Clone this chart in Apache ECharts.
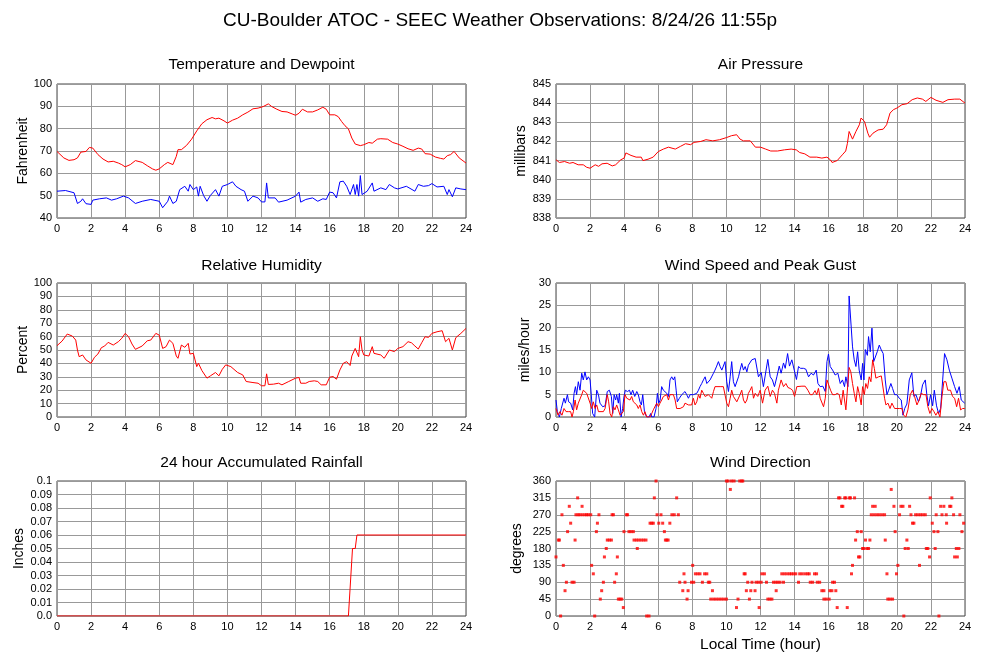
<!DOCTYPE html>
<html>
<head>
<meta charset="utf-8">
<script src="https://cdn.jsdelivr.net/npm/echarts@6/dist/echarts.min.js"></script>
<style>
html,body{margin:0;padding:0;background:#fff;}
#chart{width:1000px;height:660px;}
</style>
</head>
<body>
<div id="chart"></div>
<script>
// ---------- DATA ----------
const mainTitle = "CU-Boulder ATOC - SEEC Weather Observations: 8/24/26 11:55p";
const panelTitles = ["Temperature and Dewpoint","Air Pressure","Relative Humidity","Wind Speed and Peak Gust","24 hour Accumulated Rainfall","Wind Direction"];
const yNames = ["Fahrenheit","millibars","Percent","miles/hour","Inches","degrees"];
const hourTicks = [0,2,4,6,8,10,12,14,16,18,20,22,24];

const temperature = [[0,69.8],[0.4,66.9],[0.7,65.8],[1.0,66.1],[1.2,66.9],[1.4,69.5],[1.7,69.8],[1.9,71.6],[2.1,71.3],[2.4,68.4],[2.7,66.4],[3.0,65.1],[3.3,65.4],[3.6,64.6],[3.8,63.9],[4.0,62.9],[4.3,63.9],[4.6,65.7],[5.0,64.9],[5.3,63.4],[5.6,62],[5.8,61.4],[6.0,62],[6.3,63.9],[6.5,64.9],[6.8,63.9],[7.0,67.6],[7.1,70.6],[7.3,70.6],[7.6,72.5],[7.9,75.3],[8.2,79],[8.5,82.2],[8.8,84],[9.1,85],[9.3,84.4],[9.5,84.7],[9.8,83.5],[10.0,82.5],[10.3,83.8],[10.6,84.7],[10.9,86.2],[11.2,87.4],[11.5,88.9],[11.8,89.2],[12.1,89.9],[12.4,91.1],[12.6,89.9],[12.9,88.7],[13.2,87.7],[13.5,87.5],[13.8,86.6],[14.0,86],[14.2,86.9],[14.4,88.7],[14.7,87.5],[15.0,87.5],[15.3,88.4],[15.6,89.6],[15.8,88.7],[16.0,86.2],[16.3,86.2],[16.5,85.4],[16.7,83.2],[16.9,81.3],[17.1,79.9],[17.3,75.8],[17.5,73.1],[17.8,72.4],[18.0,72.8],[18.3,73.8],[18.5,73.5],[18.8,75.3],[19.0,75.5],[19.4,75.3],[19.7,73.8],[20.0,73.1],[20.3,72.1],[20.6,71],[20.9,70.3],[21.2,71.3],[21.4,70.9],[21.6,68.8],[21.9,68.6],[22.2,67.3],[22.5,66.7],[22.7,66.4],[22.9,67.9],[23.1,68.4],[23.3,69.8],[23.6,66.9],[24.0,64.6]];

const dewpoint = [[0,52],[0.5,52.3],[1.0,51.3],[1.2,46.5],[1.4,47.5],[1.5,48.6],[1.7,46.4],[2.0,46.1],[2.1,48],[2.5,48.6],[2.9,49],[3.2,48],[3.5,48.6],[3.9,49.8],[4.2,49],[4.6,46.5],[5.0,47.5],[5.5,48.3],[6.0,47.5],[6.2,44.6],[6.5,47.5],[6.6,49.8],[6.8,46.5],[7.0,47.5],[7.2,52.7],[7.5,54.2],[7.7,52],[7.8,55],[8.0,52.7],[8.2,53.9],[8.3,49.8],[8.4,54.2],[8.6,50.1],[8.8,47.5],[9.0,50.1],[9.3,52.7],[9.5,49.8],[9.7,54.2],[10.0,55],[10.3,56.2],[10.5,54.2],[10.8,52.7],[11.0,52],[11.2,47.5],[11.5,49.8],[11.8,49],[12.0,47.2],[12.2,47.2],[12.3,55.7],[12.4,49],[12.8,49],[13.0,47.1],[13.5,48],[14.0,49.8],[14.2,51.6],[14.3,47.1],[14.6,48.3],[15.0,49],[15.3,47.5],[15.6,48.6],[15.8,48.3],[16.0,51.6],[16.2,51.3],[16.4,49],[16.6,56.2],[16.8,56.5],[17.0,54.2],[17.2,50.5],[17.4,55],[17.5,50.5],[17.6,55],[17.7,49.8],[17.8,59],[17.9,50.5],[18.2,52],[18.5,55.7],[18.6,52],[19.0,53.5],[19.3,52.7],[19.5,55],[19.8,53.5],[20.0,53],[20.5,54.2],[21.0,52],[21.2,55],[21.5,54.2],[21.8,54.5],[22.0,55.4],[22.3,53.9],[22.7,54.2],[22.9,50.5],[23.0,52.7],[23.2,49.5],[23.4,53.5],[23.7,53],[24.0,52.7]];

const pressure = [[0,841.04],[0.2,840.9],[0.5,840.95],[0.8,840.86],[1.0,840.9],[1.3,840.78],[1.4,840.7],[1.6,840.78],[1.8,840.65],[2.0,840.6],[2.3,840.78],[2.5,840.7],[2.7,840.83],[3.0,840.86],[3.3,840.72],[3.5,840.78],[3.8,841.04],[4.0,841.13],[4.1,841.4],[4.4,841.27],[4.7,841.18],[5.0,841.18],[5.1,841],[5.4,841.07],[5.7,841.18],[6.0,841.47],[6.3,841.6],[6.6,841.7],[7.0,841.6],[7.3,841.74],[7.6,841.88],[7.9,841.83],[8.1,841.95],[8.5,842],[8.8,842.09],[9.2,842.03],[9.6,842.09],[10.0,842.2],[10.3,842.3],[10.6,842.35],[10.8,842.12],[11.0,842.03],[11.4,842.03],[11.7,841.7],[12.0,841.7],[12.3,841.6],[12.6,841.5],[13.0,841.5],[13.4,841.56],[13.8,841.6],[14.1,841.56],[14.3,841.42],[14.6,841.35],[14.9,841.18],[15.3,841.18],[15.6,841.13],[15.9,841.18],[16.1,841.04],[16.2,840.9],[16.5,841],[16.8,841.3],[17.0,841.5],[17.1,841.9],[17.2,842.52],[17.4,842.12],[17.6,842.52],[17.8,842.87],[17.9,843.22],[18.1,843.05],[18.3,842.43],[18.4,842.22],[18.6,842.43],[18.9,842.6],[19.2,842.64],[19.4,842.87],[19.6,843.48],[19.8,843.66],[20.0,843.74],[20.3,843.92],[20.6,843.97],[20.9,844.18],[21.2,844.27],[21.5,844.21],[21.7,844.09],[22.0,844.3],[22.3,844.15],[22.7,844.04],[23.0,844.18],[23.4,844.21],[23.7,844.21],[24.0,844]];

const humidity = [[0,53.2],[0.3,56.7],[0.6,61.9],[0.9,60.4],[1.1,57.4],[1.2,50],[1.3,45],[1.5,46.3],[1.7,42.6],[2.0,40.1],[2.2,44.6],[2.4,47],[2.6,51.7],[2.8,53],[3.0,55.7],[3.3,53.7],[3.6,56.2],[3.8,58.7],[4.0,62.4],[4.2,59.9],[4.4,54.5],[4.6,50.5],[5.0,53],[5.3,56.9],[5.5,57.4],[5.8,62.4],[6.0,61.1],[6.2,51.2],[6.4,52.5],[6.6,57.4],[6.8,55],[7.0,45.5],[7.1,43.8],[7.3,53.7],[7.5,52],[7.7,55],[7.8,47],[8.0,47.5],[8.1,42.6],[8.2,37.6],[8.3,40.1],[8.5,34.7],[8.8,29],[9.0,30.7],[9.3,33.2],[9.5,30.7],[9.7,35.6],[9.9,38.9],[10.0,40.1],[10.2,37.6],[10.3,38.9],[10.6,33.2],[10.9,31.4],[11.1,26.5],[11.5,25.7],[11.8,25.2],[12.0,23.3],[12.2,23.3],[12.3,32.2],[12.4,24.3],[12.7,24.5],[13.0,25.2],[13.2,24],[13.6,26.5],[14.0,29],[14.2,29.5],[14.3,25.2],[14.6,25.2],[14.8,26.5],[15.1,27],[15.3,26.5],[15.5,24],[15.8,24],[16.0,29.7],[16.2,30.2],[16.4,28.2],[16.6,35.1],[16.8,40.1],[17.0,41.3],[17.2,38.4],[17.3,45.5],[17.5,51.2],[17.6,52.5],[17.7,45],[17.8,59.9],[17.9,50],[18.0,46.3],[18.3,45.5],[18.5,52.5],[18.6,47.5],[19.0,46.3],[19.2,43.8],[19.5,50],[19.8,48.8],[20.0,51.2],[20.3,52.5],[20.6,56.2],[20.8,55.4],[21.0,53],[21.2,50.7],[21.4,55.4],[21.6,59.9],[21.8,59.4],[22.0,62.4],[22.3,63.6],[22.6,64.4],[22.8,56.2],[23.0,58.7],[23.2,50],[23.3,49.3],[23.4,59.2],[23.7,62.4],[24.0,66.1]];

const windGust = [[0,3.8],[0.08,1.2],[0.2,0],[0.31,1.9],[0.39,1.9],[0.47,4.2],[0.55,3.1],[0.67,5],[0.74,3.4],[0.86,3.1],[0.98,1.6],[1.06,5.3],[1.14,6.8],[1.21,5],[1.31,7.9],[1.41,6],[1.51,9.8],[1.6,8.3],[1.7,10.1],[1.8,8.3],[1.9,9],[2.0,8.3],[2.07,5],[2.15,0.8],[2.27,0],[2.39,6],[2.49,5],[2.58,3.1],[2.74,2.3],[2.88,2.5],[3.01,5.7],[3.13,6],[3.25,4.6],[3.33,0.8],[3.41,5],[3.5,3.8],[3.56,5],[3.66,3.1],[3.72,5.3],[3.82,0],[3.91,1.9],[3.99,4.6],[4.07,6],[4.19,5.7],[4.31,6],[4.4,5],[4.5,6],[4.62,4.6],[4.74,5.7],[4.83,5],[4.93,3.4],[5.01,2.7],[5.09,5],[5.19,1.2],[5.32,0],[5.46,0],[5.56,0.8],[5.62,0],[5.75,0],[5.87,1.9],[5.95,5.3],[6.03,3.1],[6.11,3.8],[6.2,6.8],[6.3,6],[6.4,6],[6.5,5.3],[6.6,4.6],[6.69,8.3],[6.79,9],[6.89,8.3],[6.97,9],[7.05,6],[7.12,3.4],[7.24,4.2],[7.38,5],[7.48,5.3],[7.57,5.7],[7.67,5],[7.77,4.2],[7.87,5],[7.96,5],[8.06,5],[8.16,5],[8.26,5.3],[8.36,6],[8.45,6.8],[8.55,7.5],[8.65,8.3],[8.75,9],[8.85,7.5],[8.94,7.2],[9.04,8.3],[9.14,8.3],[9.24,9.8],[9.33,10.5],[9.43,11.4],[9.53,12.4],[9.63,11.3],[9.73,10.5],[9.82,10.5],[9.92,12.4],[10.02,7.9],[10.12,5.7],[10.22,9],[10.31,12.4],[10.41,7.9],[10.51,6.8],[10.61,6.8],[10.71,9],[10.8,10.5],[10.9,12],[11.0,10.5],[11.1,11.3],[11.2,10.1],[11.29,11.6],[11.39,12],[11.49,12.8],[11.59,12.4],[11.69,13.1],[11.88,9],[12.04,10],[12.17,6.8],[12.43,12.9],[12.57,9],[12.7,8.3],[12.82,6.8],[12.96,9],[13.1,11.4],[13.21,9.8],[13.35,12.1],[13.45,10.9],[13.59,14.2],[13.7,11.4],[13.84,12.8],[13.98,10.5],[14.11,8.4],[14.23,11.3],[14.35,10.9],[14.52,10.9],[14.66,10.7],[14.82,9],[14.97,9.8],[15.11,9.4],[15.27,10.5],[15.37,7.5],[15.5,6.8],[15.66,6.9],[15.8,5.7],[15.9,12.4],[15.99,14.1],[16.09,11.3],[16.23,10.5],[16.38,9.4],[16.54,9.8],[16.68,7.5],[16.81,8.3],[16.93,6.8],[17.01,9],[17.13,6.8],[17.2,27.1],[17.3,27.1],[17.4,15.7],[17.5,12.8],[17.6,11.3],[17.7,14.6],[17.79,10.5],[17.91,8.3],[17.99,12],[18.07,8.3],[18.15,15.1],[18.27,13.8],[18.34,18],[18.44,14.6],[18.54,19.9],[18.64,12.4],[18.73,12.8],[18.85,14.6],[18.97,16.1],[19.09,15],[19.2,14.2],[19.32,8.3],[19.42,5],[19.52,6],[19.65,7.5],[19.75,6.4],[19.87,5],[20.0,5],[20.14,4.2],[20.26,3.8],[20.36,0.4],[20.46,1.9],[20.59,2.9],[20.73,8.3],[20.88,9.9],[21.0,4.6],[21.12,5],[21.27,3.4],[21.39,4.7],[21.51,7.2],[21.67,8.3],[21.76,5],[21.86,2.5],[21.98,5],[22.1,2.5],[22.2,6],[22.33,2.5],[22.45,0.8],[22.57,1.9],[22.69,8.3],[22.8,14.2],[22.94,12.8],[23.08,10.5],[23.23,8.7],[23.39,6.8],[23.53,5.3],[23.66,6.8],[23.78,3.8],[23.86,4.2],[23.98,3.1]];

const windSpeed = [[0,1.9],[0.12,0.4],[0.23,1.2],[0.35,0.4],[0.47,1.9],[0.59,1.2],[0.72,1.2],[0.86,1.2],[0.94,0],[1.02,1.2],[1.12,3.8],[1.21,1.6],[1.31,3.1],[1.41,3.1],[1.51,5],[1.6,6],[1.7,6],[1.8,5.3],[1.9,5],[2.0,3.1],[2.09,1.9],[2.19,3.4],[2.29,1.9],[2.39,2.7],[2.49,1.2],[2.58,1.2],[2.78,1.2],[2.88,1.9],[3.01,5],[3.09,3.4],[3.17,0.8],[3.27,0],[3.37,2.3],[3.46,1.6],[3.56,2.7],[3.66,1.6],[3.76,0.4],[3.86,0],[3.95,1.2],[4.05,5],[4.15,4.2],[4.25,4.2],[4.34,3.8],[4.44,4.6],[4.54,3.4],[4.64,3.4],[4.74,2.7],[4.83,1.9],[4.93,2.7],[5.03,1.2],[5.13,0.4],[5.22,1.2],[5.32,0],[5.52,0],[5.62,0.8],[5.71,1.6],[5.81,1.2],[5.91,3.1],[6.01,2.3],[6.1,3.1],[6.2,3.8],[6.3,4.6],[6.4,5],[6.5,5],[6.6,3.8],[6.69,5],[6.79,5],[6.89,5],[6.99,3.8],[7.08,1.9],[7.18,1.9],[7.28,1.9],[7.38,1.9],[7.48,2.3],[7.57,3.1],[7.67,3.1],[7.77,2.7],[7.87,3.1],[7.96,2.7],[8.06,4.2],[8.16,2.7],[8.26,3.4],[8.36,5],[8.45,4.2],[8.55,6],[8.65,5.3],[8.75,4.6],[8.85,5],[8.94,5],[9.04,4.6],[9.14,4.2],[9.24,5.7],[9.33,6.8],[9.43,6.8],[9.63,6.8],[9.82,6.8],[9.92,6.4],[10.02,3.1],[10.12,2.3],[10.22,4.2],[10.31,6],[10.41,4.6],[10.51,4.2],[10.61,3.4],[10.71,3.8],[10.8,5],[10.9,6],[11.0,3.8],[11.1,3.1],[11.2,3.8],[11.29,5.3],[11.39,6],[11.49,6.8],[11.59,4.2],[11.69,5.3],[11.84,4.6],[11.98,6],[12.12,3.1],[12.27,6],[12.43,6.9],[12.57,4.6],[12.7,6],[12.82,5.3],[12.96,3.1],[13.05,6],[13.21,8.3],[13.35,6.8],[13.49,7.5],[13.61,6.6],[13.74,6.4],[13.88,6],[14.0,4.6],[14.13,6.8],[14.23,6.9],[14.43,6.9],[14.62,6.9],[14.78,6],[14.92,5],[15.05,5],[15.2,5.9],[15.3,5],[15.4,6.4],[15.5,4.2],[15.6,3.8],[15.7,2.3],[15.8,4.2],[15.9,8.3],[15.99,8.3],[16.11,6],[16.23,5],[16.38,5],[16.5,5.3],[16.62,5],[16.74,2.7],[16.85,6],[16.93,3.8],[17.01,1.6],[17.11,1.2],[17.2,11.1],[17.3,10.1],[17.4,7.5],[17.5,5.3],[17.6,3.4],[17.7,6.8],[17.79,5.3],[17.91,2.7],[17.99,6.8],[18.09,5],[18.18,7.5],[18.28,6.4],[18.38,9],[18.48,7.9],[18.58,12.8],[18.68,10.9],[18.77,8.7],[18.93,9],[19.09,9.2],[19.2,9],[19.28,4.2],[19.36,2.7],[19.48,3.1],[19.6,1.9],[19.71,3.1],[19.87,1.9],[20.14,1.9],[20.3,1.9],[20.4,0.4],[20.53,0],[20.65,1.6],[20.79,5],[20.92,6],[21.04,4.6],[21.18,2.7],[21.31,3.8],[21.43,5.3],[21.57,5],[21.71,5],[21.82,2.3],[21.94,0.8],[22.06,1.9],[22.18,1.2],[22.29,0.4],[22.41,1.2],[22.53,0],[22.65,4.6],[22.76,7.9],[22.88,7.9],[22.99,6],[23.15,6],[23.27,4.6],[23.39,4.2],[23.51,2.3],[23.62,4.2],[23.74,1.6],[23.86,1.9],[23.98,1.9]];

const rainfall = [[0,0],[17.1,0],[17.34,0.05],[17.5,0.05],[17.6,0.06],[24,0.06]];

const windDirection = [[0.0,157.5],[0.14,202.5],[0.2,202.5],[0.27,0],[0.35,270],[0.43,135],[0.53,67.5],[0.61,90],[0.68,225],[0.78,292.5],[0.86,247.5],[0.94,90],[1.06,90],[1.12,202.5],[1.17,270],[1.27,315],[1.3,270],[1.4,270],[1.53,292.5],[1.55,270],[1.7,270],[1.8,270],[1.9,270],[2.04,270],[2.09,135],[2.19,112.5],[2.27,0],[2.37,225],[2.43,247.5],[2.52,270],[2.6,45],[2.68,67.5],[2.78,90],[2.84,157.5],[2.95,180],[3.01,202.5],[3.13,202.5],[3.25,202.5],[3.29,270],[3.37,270],[3.44,90],[3.54,112.5],[3.6,157.5],[3.66,45],[3.76,45],[3.86,45],[3.95,22.5],[3.99,225],[4.13,270],[4.2,270],[4.28,225],[4.4,225],[4.54,225],[4.58,202.5],[4.72,202.5],[4.77,180],[4.86,202.5],[5.0,202.5],[5.14,202.5],[5.28,202.5],[5.32,0],[5.46,0],[5.52,247.5],[5.62,247.5],[5.71,247.5],[5.77,315],[5.87,360],[5.93,270],[6.03,247.5],[6.16,270],[6.26,247.5],[6.36,225],[6.42,202.5],[6.5,202.5],[6.58,202.5],[6.68,247.5],[6.8,270],[6.94,270],[7.08,315],[7.18,270],[7.26,90],[7.44,67.5],[7.51,112.5],[7.57,90],[7.69,45],[7.75,67.5],[7.95,90],[8.02,135],[8.08,90],[8.18,112.5],[8.32,112.5],[8.45,112.5],[8.59,90],[8.72,112.5],[8.85,112.5],[8.94,90],[9.02,90],[9.08,45],[9.18,67.5],[9.25,45],[9.4,45],[9.55,45],[9.7,45],[9.85,45],[10.0,360],[10.0,45],[10.1,360],[10.23,337.5],[10.3,360],[10.45,360],[10.59,22.5],[10.68,45],[10.78,360],[10.9,360],[10.96,360],[11.04,112.5],[11.1,112.5],[11.17,67.5],[11.25,90],[11.35,45],[11.43,67.5],[11.5,90],[11.68,67.5],[11.74,90],[11.88,90],[11.92,22.5],[12.04,90],[12.08,112.5],[12.23,112.5],[12.35,90],[12.43,45],[12.55,45],[12.67,45],[12.76,90],[12.9,90],[12.92,67.5],[13.02,90],[13.15,90],[13.25,112.5],[13.35,90],[13.4,112.5],[13.55,112.5],[13.7,112.5],[13.82,112.5],[13.95,112.5],[14.07,112.5],[14.23,90],[14.3,112.5],[14.45,112.5],[14.62,112.5],[14.76,112.5],[14.86,112.5],[14.92,90],[15.06,90],[15.17,112.5],[15.29,112.5],[15.33,90],[15.47,90],[15.6,67.5],[15.72,45],[15.72,67.5],[15.86,45],[16.03,45],[16.07,67.5],[16.19,67.5],[16.23,90],[16.34,90],[16.42,67.5],[16.5,22.5],[16.58,315],[16.66,315],[16.76,292.5],[16.83,292.5],[16.94,315],[17.01,315],[17.09,22.5],[17.22,315],[17.28,315],[17.34,112.5],[17.4,135],[17.52,315],[17.58,202.5],[17.68,225],[17.75,157.5],[17.83,157.5],[17.91,225],[17.99,180],[18.07,180],[18.16,202.5],[18.25,180],[18.34,180],[18.42,202.5],[18.5,270],[18.58,292.5],[18.66,270],[18.73,292.5],[18.82,270],[18.97,270],[19.13,270],[19.28,270],[19.32,202.5],[19.42,112.5],[19.47,45],[19.6,45],[19.67,337.5],[19.75,45],[19.83,292.5],[19.9,225],[19.98,112.5],[20.06,135],[20.16,270],[20.24,292.5],[20.36,292.5],[20.41,0],[20.49,180],[20.59,202.5],[20.67,180],[20.75,292.5],[20.83,270],[20.92,247.5],[21.0,247.5],[21.1,270],[21.24,270],[21.33,135],[21.39,270],[21.53,270],[21.67,270],[21.73,180],[21.82,180],[21.92,157.5],[21.96,315],[22.08,247.5],[22.18,225],[22.25,180],[22.31,270],[22.41,225],[22.47,0],[22.57,292.5],[22.65,270],[22.76,292.5],[22.9,270],[22.92,247.5],[23.1,292.5],[23.17,292.5],[23.23,315],[23.33,270],[23.39,157.5],[23.49,180],[23.55,157.5],[23.64,180],[23.7,270],[23.82,225],[23.92,247.5]];

// y-axis ranges per panel: [min, max, interval]
const yRanges = [[40,100,10],[838,845,1],[0,100,10],[0,30,5],[0,0.1,0.01],[0,360,45]];

// ---------- LAYOUT ----------
const FONT = "'Liberation Sans', Arial, Helvetica, sans-serif";
const grids = [
  {left:57, top:84, width:409, height:134},
  {left:556, top:84, width:409, height:134},
  {left:57, top:283, width:409, height:134},
  {left:556, top:283, width:409, height:134},
  {left:57, top:481, width:409, height:135},
  {left:556, top:481, width:409, height:135}
];
const nameGaps = [27,28,27,24,31,32];
const titleTops = [57,57,258,258,455,455];

const RED = '#ff0000', BLUE = '#0000ff';

const option = {
  backgroundColor:'#ffffff',
  animation:false,
  textStyle:{fontFamily:FONT},
  title:[{text:mainTitle,left:'center',top:11,padding:0,textStyle:{fontSize:19,fontWeight:'normal',color:'#000',fontFamily:FONT}}]
    .concat(panelTitles.map((t,i)=>({
      text:t, left:grids[i].left+grids[i].width/2, textAlign:'center', top:titleTops[i], padding:0,
      textStyle:{fontSize:15.5,fontWeight:'normal',color:'#000',fontFamily:FONT}
    }))),
  grid:grids.map(g=>Object.assign({show:true,borderColor:'#444',borderWidth:1,backgroundColor:'transparent',containLabel:false},g)),
  xAxis:grids.map((g,i)=>({
    type:'value', gridIndex:i, min:hourTicks[0], max:hourTicks[hourTicks.length-1], interval:2,
    axisLine:{show:false}, axisTick:{show:false},
    axisLabel:{fontSize:11,color:'#000',margin:5,fontFamily:FONT},
    splitLine:{show:true,lineStyle:{color:'#999',width:1}},
    name: i===5 ? 'Local Time (hour)' : '',
    nameLocation:'middle', nameGap:21,
    nameTextStyle:{fontSize:15.5,color:'#000',fontFamily:FONT}
  })),
  yAxis:grids.map((g,i)=>({
    type:'value', gridIndex:i, min:yRanges[i][0], max:yRanges[i][1], interval:yRanges[i][2],
    axisLine:{show:false}, axisTick:{show:false},
    axisLabel:{fontSize:11,color:'#000',margin:5,fontFamily:FONT,
      formatter: i===4 ? (v=>v===0?'0.0':String(+v.toFixed(2))) : (v=>String(v))},
    splitLine:{show:true,lineStyle:{color:'#999',width:1}},
    name:yNames[i], nameLocation:'middle', nameRotate:90, nameGap:nameGaps[i],
    nameTextStyle:{fontSize:14,color:'#000',fontFamily:FONT}
  })),
  series:[
    {type:'line',xAxisIndex:0,yAxisIndex:0,data:temperature,showSymbol:false,lineStyle:{color:RED,width:1},itemStyle:{color:RED}},
    {type:'line',xAxisIndex:0,yAxisIndex:0,data:dewpoint,showSymbol:false,lineStyle:{color:BLUE,width:1},itemStyle:{color:BLUE}},
    {type:'line',xAxisIndex:1,yAxisIndex:1,data:pressure,showSymbol:false,lineStyle:{color:RED,width:1},itemStyle:{color:RED}},
    {type:'line',xAxisIndex:2,yAxisIndex:2,data:humidity,showSymbol:false,lineStyle:{color:RED,width:1},itemStyle:{color:RED}},
    {type:'line',xAxisIndex:3,yAxisIndex:3,data:windGust,showSymbol:false,lineStyle:{color:BLUE,width:1},itemStyle:{color:BLUE}},
    {type:'line',xAxisIndex:3,yAxisIndex:3,data:windSpeed,showSymbol:false,lineStyle:{color:RED,width:1},itemStyle:{color:RED}},
    {type:'line',xAxisIndex:4,yAxisIndex:4,data:rainfall,showSymbol:false,lineStyle:{color:RED,width:1},itemStyle:{color:RED}},
    {type:'scatter',xAxisIndex:5,yAxisIndex:5,data:windDirection,symbol:'rect',symbolSize:3,itemStyle:{color:RED}}
  ]
};

const chart = echarts.init(document.getElementById('chart'),null,{renderer:'canvas'});
chart.setOption(option);
</script>
</body>
</html>
